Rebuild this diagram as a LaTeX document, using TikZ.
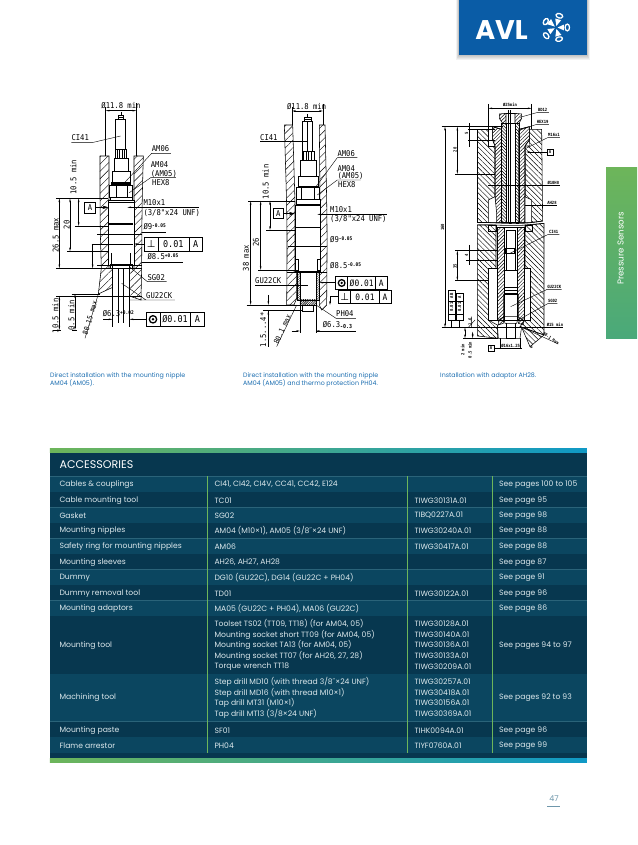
\documentclass[tikz,border=0pt]{standalone}
\usepackage{fontspec}
\usetikzlibrary{patterns.meta,arrows.meta}
\setmainfont{Poppins}
\newfontfamily\iso[FakeStretch=.9]{DejaVu Sans Mono}
\newfontfamily\syms{DejaVu Sans}
\definecolor{rowdark}{HTML}{07374F}
\definecolor{rowlight}{HTML}{0B4660}
\definecolor{sepline}{HTML}{2A6379}
\definecolor{tabtext}{HTML}{DCE8EC}
\definecolor{avlgreen}{HTML}{6DB55A}
\definecolor{avlteal}{HTML}{4AA97A}
\definecolor{midteal}{HTML}{4FAE8A}
\definecolor{barblue}{HTML}{0F99C6}
\definecolor{avlblue}{HTML}{0A5CA6}
\definecolor{capblue}{HTML}{1B6DB0}
\definecolor{pagenum}{HTML}{6F97AB}
\newcommand\sps[1]{\raisebox{.45ex}{\fontsize{5}{5}\selectfont\bfseries #1}}
\newcommand\sbs[1]{\raisebox{-.2ex}{\fontsize{5.5}{5.5}\selectfont\bfseries #1}}
\newcommand\tc[3]{\node[tabt] (t#1#2) at (#1,#2) {#3};}
\tikzset{
  iso/.style={font=\iso\fontsize{8}{9}\selectfont,inner sep=0pt,text=black},
  isol/.style={iso,anchor=west},
  isob/.style={font=\iso\fontsize{9.4}{10}\selectfont,inner sep=0pt,text=black},
  isoc/.style={font=\iso\fontsize{8.8}{10}\selectfont,inner sep=0pt,text=black},
  tinyt/.style={font=\iso\bfseries\fontsize{4.3}{5}\selectfont,inner sep=0pt,text=black},
  tabt/.style={font=\fontsize{7.65}{8}\selectfont,inner sep=0pt,anchor=west,text=tabtext},
  capt/.style={font=\fontsize{6.3}{8}\selectfont,inner sep=0pt,anchor=north west,align=left,text=capblue},
  olin/.style={line width=.55pt},
  thk/.style={line width=1.5pt},
  dm/.style={line width=.4pt},
  dma/.style={line width=.4pt,{Stealth[length=4pt,width=1.6pt]}-{Stealth[length=4pt,width=1.6pt]}},
  ar/.style={line width=.4pt,-{Stealth[length=4pt,width=1.6pt]}},
  bigar/.style={line width=.4pt,-{Stealth[length=6pt,width=3.5pt]}},
  hatchA/.style={line width=.55pt,pattern={Lines[angle=45,distance=5.2pt,line width=.4pt]}},
  hatchB/.style={line width=.55pt,pattern={Lines[angle=-45,distance=3.6pt,line width=.45pt]}},
  hatchC/.style={line width=.3pt,pattern={Lines[angle=45,distance=1.6pt,line width=.35pt]}},
  hatchD/.style={line width=.55pt,pattern={Lines[angle=45,distance=2.5pt,line width=.45pt]}},
  hatchE/.style={line width=.55pt,pattern={Lines[angle=-45,distance=2.2pt,line width=.45pt]}},
  fcf/.style={line width=.6pt,fill=white},
}
\begin{document}
\begin{tikzpicture}[x=1pt,y=-1pt]
\useasboundingbox (0,0) rectangle (637,845);
% logo
\foreach \d in {.5,1.5,...,5.5}{\fill[black,opacity=.05] (459-\d*.5,0) rectangle (587+\d*.5,54.7+\d);}
\fill[avlblue] (459,0) rectangle (587,54.7);
\node[font=\bfseries\fontsize{27}{27}\selectfont,text=white,inner sep=0pt] (avl) at (501.5,30) {AVL};
\begin{scope}[shift={(556,27.5)}]
\foreach \a/\r in {-140/12.8,-75/12,0/11.3,74/12.2,150/11.8}{
  \fill[white] (\a:1.5) -- (\a-20:\r-3) -- (\a+20:\r-3) -- cycle;
  \begin{scope}[rotate=\a,shift={(\r,0)}]
    \draw[white,line width=1.3pt,fill=avlblue] (0,0) ellipse (2.2 and 3.4);
  \end{scope}
}
\end{scope}
% side tab
\shade[top color=avlgreen,bottom color=avlteal] (606,168) rectangle (637,338);
\node[font=\fontsize{8.6}{9}\selectfont,text=white,rotate=90,inner sep=0pt] (tab) at (620.5,248.5) {Pressure Sensors};

% ---------- drawing 1
\begin{scope}[shift={(40,90)},x=.3333pt,y=-.3333pt]
\draw[hatchA] (180,198)--(207,198)--(207,535)--(184,535) .. controls (180,400) .. (180,198);
\draw[hatchA] (184,535)--(218,535)--(218,592)--(175,612)--cycle;
\draw[hatchA] (282,198)--(310,198) .. controls (306,350) .. (305,535)--(282,535)--cycle;
\draw[hatchA] (268,535)--(305,535)--(303,630)--(268,618)--cycle;
% sensor
\draw[olin,fill=white] (236,75) rectangle (250,88);
\draw[dm] (236,82)--(250,82) (243,66)--(243,75);
\draw[olin,fill=white] (227,88) rectangle (257,178);
\draw[olin,fill=white] (227,178) rectangle (260,205);
\foreach \x in {234,240,247,254}{\draw[line width=1pt] (\x,180)--(\x,205);}
\draw[olin,fill=white] (224,205) rectangle (264,245);
\draw[olin,fill=white] (218,245) rectangle (272,278);
\fill (214,277) rectangle (272,285);
\draw[olin,fill=white] (208,285) rectangle (277,322);
\draw[olin] (228,285)--(228,322) (262,285)--(262,322);
\draw[olin,fill=white] (212,322) rectangle (276,330);
\draw[olin,fill=white] (205,330) rectangle (282,525);
\draw[thk] (205,338)--(282,338) (205,402)--(280,402);
\draw[olin] (205,462)--(280,462);
\draw[olin] (213,490)--(213,525) (272,490)--(272,525);
\fill (210,522) rectangle (278,529);
\draw[olin] (218,529)--(218,710) (268,529)--(268,710);
\draw[dm] (235,535)--(235,700) (250,535)--(250,700) (212,535)--(212,525) (276,535)--(276,525);
\draw[dm] (172,433)--(305,433) (172,525)--(305,525);
% top dim
\draw[dm] (197,52)--(197,198) (289,40)--(289,198);
\draw[dma] (197,62)--(289,62);
\node[iso] (d1a) at (243,48) {Ø11.8 min};
% labels
\node[isol] (d1c) at (94,143) {CI41};
\draw[dm] (94,157)--(160,157)--(242,138);
\node[isol] (d1b) at (335,177) {AM06};
\draw[dm] (335,190)--(393,190) (335,190)--(250,282);
\node[isol] (d1d) at (332,223) {AM04};
\node[isol] (d1e) at (332,251) {(AM05)};
\node[isol] (d1f) at (336,279) {HEX8};
\draw[dm] (332,263)--(408,263) (332,263)--(268,308);
% A box
\node[draw,line width=.6pt,minimum width=11pt,minimum height=11pt,iso] (d1box) at (150,352) {A};
\draw[bigar] (d1box.east)--(205,352);
\draw[ar] (282,352)--(262,352);
\draw[dm] (282,352)--(477,352);
\node[isol] (d1m) at (310,337) {M10x1};
\node[isol] (d1n) at (310,368) {(3/8"x24 UNF)};
\node[isol] (d1o) at (310,410) {Ø9\sps{-0.05}};
\draw[dm] (305,426)--(378,426);
% vert dims
\draw[dm] (48,325)--(205,325) (105,408)--(205,408) (82,484)--(205,484) (48,535)--(305,535);
\draw[dma] (116,325)--(116,408);
\draw[dma] (90,325)--(90,484);
\draw[dma] (58,325)--(58,535);
\node[iso,rotate=90] (d1p) at (100,262) {10.5 min};
\node[iso,rotate=90] (d1q) at (80,405) {20};
\node[iso,rotate=90] (d1r) at (47,436) {26.5 max};
\draw[dm] (155,462)--(205,462);
\draw[ar] (158,462)--(158,535);
% perp box
\draw[fcf] (313,443) rectangle (488,483);
\draw[line width=.6pt] (355,443)--(355,483) (447,443)--(447,483);
\node[font=\syms\fontsize{10}{10}\selectfont,inner sep=0pt] (d1perp) at (334,462) {⊥};
\node[isob] (d1s) at (400,463) {0.01};
\node[isob] (d1t) at (467,463) {A};
\draw[ar] (313,462)--(282,462);
\node[isol] (d1u) at (322,501) {Ø8.5\sps{+0.05}};
\draw[dm] (305,518)--(430,518);
\node[isol] (d1v) at (322,562) {SG02};
\draw[dm] (322,575)--(380,575) (322,575)--(268,530);
\node[isol] (d1w) at (318,617) {GU22CK};
\draw[dm] (268,630)--(405,630) (318,630)--(245,580);
\draw[dm] (48,618)--(305,618) (95,612)--(180,612);
\draw[dm] (40,720)--(62,720) (96,720)--(110,720);
\draw[dma] (58,618)--(58,720);
\draw[dma] (105,612)--(105,720);
\node[iso,rotate=90] (d1x) at (46,678) {10.5 min};
\node[iso,rotate=90] (d1y) at (94,676) {0.5 min};
\draw[dm] (175,612)--(135,745);
\node[iso,rotate=73,font=\iso\fontsize{7.2}{8}\selectfont] (d1z) at (150,683) {80.15 max};
\node[isol] (d1aa) at (188,672) {Ø6.3\sps{+0.02}};
\draw[ar] (190,688)--(218,688);
\draw[ar] (320,688)--(268,688);
\draw[fcf] (320,667) rectangle (494,709);
\draw[line width=.6pt] (360,667)--(360,709) (450,667)--(450,709);
\draw[line width=1.3pt] (339,688) circle (11);
\fill (339,688) circle (4);
\node[isob] (d1ab) at (405,688) {Ø0.01};
\node[isob] (d1ac) at (472,688) {A};
\end{scope}

% ---------- drawing 2
\begin{scope}[shift={(230,90)},x=.3333pt,y=-.3333pt]
\draw[hatchA] (163,105)--(188,105)--(195,335)--(195,548)--(200,548)--(200,625)--(192,645)--(170,645) .. controls (172,400) .. (163,105);
\draw[hatchA] (268,105)--(285,105) .. controls (292,400) .. (290,645)--(275,660)--(268,645)--(268,548)--(270,548)--(270,335)--cycle;
% sensor
\draw[olin,fill=white] (222,82) rectangle (245,95);
\draw[dm] (222,88)--(245,88) (233,72)--(233,82);
\draw[olin,fill=white] (218,95) rectangle (248,185);
\draw[olin,fill=white] (216,185) rectangle (253,211);
\foreach \x in {222,229,236,244}{\draw[line width=1pt] (\x,187)--(\x,211);}
\draw[olin,fill=white] (210,211) rectangle (258,260);
\draw[olin,fill=white] (205,260) rectangle (264,290);
\draw[olin,fill=white] (200,292) rectangle (268,328);
\draw[olin] (214,292)--(214,328) (254,292)--(254,328) (205,290)--(264,290);
\draw[olin,fill=white] (198,328) rectangle (270,345);
\draw[line width=1.2pt] (198,345)--(270,345);
\draw[olin,fill=white] (197,345) rectangle (270,545);
\draw[thk] (197,413)--(270,413);
\draw[olin] (197,508) rectangle (205,540) (262,508) rectangle (270,540);
\draw[hatchC,fill=white] (200,548) rectangle (268,630);
\draw[hatchC] (200,548) rectangle (210,630) (258,548) rectangle (268,630);
\fill[white] (210,550) rectangle (258,630);
\draw[olin] (210,548)--(210,630) (258,548)--(258,630);
\draw[thk] (200,548)--(270,548);
\draw[line width=.3pt,pattern={Lines[angle=45,distance=1.6pt,line width=.6pt]}] (210,630) rectangle (258,645);
\draw[olin] (217,645)--(217,663)--(250,663)--(250,645);
\draw[dm] (210,645)--(210,730) (258,645)--(258,730);
\draw[dm] (175,470)--(290,470) (170,548)--(290,548);
\draw[dm] (233,95)--(233,185);
% top dim
\draw[dm] (186,50)--(186,105) (279,42)--(279,105);
\draw[dma] (186,63)--(279,63);
\node[iso] (d2a) at (230,50) {Ø11.8 min};
\node[isol] (d2c) at (90,144) {CI41};
\draw[dm] (90,155)--(232,155);
\node[isol] (d2b) at (322,190) {AM06};
\draw[dm] (322,203)--(382,203) (322,203)--(258,290);
\node[isol] (d2d) at (322,235) {AM04};
\node[isol] (d2e) at (322,258) {(AM05)};
\node[isol] (d2f) at (324,285) {HEX8};
\draw[dm] (322,270)--(392,270) (322,270)--(262,315);
\node[draw,line width=.6pt,minimum width=10pt,minimum height=10pt,iso] (d2box) at (145,371) {A};
\draw[bigar] (d2box.east)--(195,371);
\draw[ar] (282,373)--(262,373);
\draw[dm] (282,373)--(470,373);
\node[isol] (d2m) at (300,358) {M10x1};
\node[isol] (d2n) at (300,388) {(3/8"x24 UNF)};
\node[isol] (d2o) at (300,449) {Ø9\sps{-0.05}};
\node[isol] (d2u) at (300,527) {Ø8.5\sps{-0.05}};
\draw[dm] (55,333)--(195,333) (108,420)--(195,420) (85,540)--(200,540) (50,645)--(215,645);
\draw[dma] (120,333)--(120,420);
\draw[dma] (92,333)--(92,540);
\draw[dma] (62,333)--(62,645);
\node[iso,rotate=90] (d2p) at (107,276) {10.5 min};
\node[iso,rotate=90] (d2q) at (78,458) {26};
\node[iso,rotate=90] (d2r) at (48,505) {38 max};
\node[isol] (d2v) at (75,573) {GU22CK};
\draw[dm] (75,587)--(235,587);
\draw[fcf] (317,560) rectangle (472,598);
\draw[line width=.6pt] (352,560)--(352,598) (437,560)--(437,598);
\draw[line width=1.3pt] (335,579) circle (10);
\fill (335,579) circle (4);
\node[isoc] (d2ab) at (395,579) {Ø0.01};
\node[isoc] (d2ac) at (454,579) {A};
\draw[ar] (317,578)--(268,578);
\draw[fcf] (325,601) rectangle (484,640);
\draw[line width=.6pt] (362,601)--(362,640) (447,601)--(447,640);
\node[font=\syms\fontsize{10}{10}\selectfont,inner sep=0pt] (d2perp) at (344,620) {⊥};
\node[isoc] (d2s) at (405,621) {0.01};
\node[isoc] (d2t) at (465,621) {A};
\draw[dm] (325,620)--(300,620);
\draw[ar] (300,620)--(300,645);
\node[isol] (d2w) at (318,671) {PH04};
\draw[dm] (318,685)--(378,685) (318,685)--(258,645);
\node[isol] (d2x) at (278,706) {Ø6.3\sbs{-0.3}};
\draw[dm] (258,723)--(378,723);
\draw[ar] (185,723)--(210,723);
\draw[ar] (285,723)--(258,723);
\draw[dm] (100,662)--(217,662);
\draw[ar] (115,615)--(115,645);
\draw[ar] (115,700)--(115,662);
\draw[dm] (115,662)--(115,770);
\node[iso,rotate=90] (d2y) at (100,720) {1.5...4*};
\draw[dm] (200,645)--(140,770);
\node[iso,rotate=65,font=\iso\fontsize{7.2}{8}\selectfont] (d2z) at (157,718) {80.1 max};
\end{scope}

% ---------- drawing 3
\begin{scope}[shift={(420,90)},x=.3333pt,y=-.3333pt]
% outer block upper
\draw[hatchB] (172,118)--(205,118)--(205,168)--(225,168)--(225,398) .. controls (200,396) .. (172,398)--cycle;
\draw[hatchB] (325,118)--(365,118)--(368,393) .. controls (345,396) .. (315,398)--(315,168)--(330,168)--cycle;
\draw[olin,fill=white] (205,150) rectangle (225,168);
\draw[hatchD,fill=white] (218,110)--(245,118)--(245,398)--(225,398)--(225,168)--(218,150)--cycle;
\draw[hatchD] (218,110)--(245,118)--(245,398)--(225,398)--(225,168)--(218,150)--cycle;
\draw[olin,fill=white] (328,110)--(297,118)--(297,398)--(315,398)--(315,168)--(328,150)--cycle;
\draw[hatchD] (328,110)--(297,118)--(297,398)--(315,398)--(315,168)--(328,150)--cycle;
\draw[olin,fill=white] (205,330) -- (225,320)--(230,370)--(230,398)--(205,398)--cycle;
\draw[olin,fill=white] (315,320)--(335,330)--(335,398)--(315,398)--cycle;
% inner tube
\draw[hatchE] (245,100)--(258,100)--(258,398)--(245,398)--cycle;
\draw[hatchE] (285,100)--(297,100)--(297,398)--(285,398)--cycle;
\draw[olin,fill=white] (258,100) rectangle (285,398);
\draw[hatchD] (238,72)--(258,70)--(258,100)--(248,100)--(238,85)--cycle;
\draw[hatchD] (305,72)--(285,70)--(285,100)--(297,100)--(305,85)--cycle;
\draw[line width=1pt] (265,60)--(265,398) (272,60)--(272,398);
\draw[olin] (258,70)--(285,70);
\draw[olin] (172,398) .. controls (230,396) and (290,408) .. (368,393);
\draw[olin] (172,405) .. controls (230,403) and (290,412) .. (372,400);
% lower block
\draw[hatchB] (172,405)--(228,405)--(228,535)--(205,535)--(205,690)--(232,705)--(235,745)--(172,738)--cycle;
\draw[hatchB] (315,405)--(372,400)--(372,735)--(300,710)--(315,690)--(332,690)--(332,535)--(315,535)--cycle;
\draw[olin,fill=white] (205,535) rectangle (232,690);
\draw[olin,fill=white] (308,535) rectangle (332,690);
\draw[olin] (205,405) rectangle (228,425) (315,405) rectangle (338,425);
\draw[olin,fill=white] (232,412) rectangle (252,690) (293,412) rectangle (312,690);
\draw[hatchD] (232,412)--(252,412)--(252,690)--(232,690)--cycle;
\draw[hatchD] (293,412)--(312,412)--(312,690)--(293,690)--cycle;
\draw[olin,fill=white] (252,412) rectangle (293,690);
\draw[olin] (258,420) rectangle (285,540);
\draw[line width=1pt] (258,475) rectangle (285,492);
\draw[olin] (252,540) rectangle (293,600);
\foreach \y in {592,602,612}{\draw[line width=1.4pt] (252,\y)--(293,\y);}
\draw[olin] (250,612)--(250,680)--(295,680)--(295,612) (250,680)--(255,700)--(290,700)--(295,680);
\draw[olin] (258,700)--(258,745)--(285,745)--(285,700);
\draw[olin] (232,705)--(232,745) (305,710)--(300,745)--(235,745);
\draw[hatchD] (235,690)--(252,680)--(250,700)--(235,705)--cycle;
\draw[hatchD] (310,690)--(293,680)--(295,700)--(310,705)--cycle;
\draw[hatchB] (300,710)--(372,735)--(330,770)--(305,712)--cycle;
% dims
\draw[dm] (205,42)--(205,118) (335,42)--(335,118);
\draw[dma] (205,55)--(335,55);
\node[tinyt] (d3a) at (270,43) {Ø25min};
\draw[dm] (350,68)--(387,68) (350,68)--(300,82);
\node[tinyt] (d3b) at (368,60) {BD12};
\draw[dm] (350,103)--(387,103) (350,103)--(300,120);
\node[tinyt] (d3c) at (368,97) {HEX19};
\draw[dm] (385,142)--(420,142) (385,142)--(318,175);
\node[tinyt] (d3d) at (402,135) {M16x1};
\node[draw,line width=.6pt,tinyt,minimum width=6pt,minimum height=6pt] (d3box) at (390,186) {A};
\draw[ar] (d3box.west)--(318,186);
\draw[dm] (205,287)--(420,287);
\node[tinyt] (d3e) at (400,280) {Ø10H8};
\draw[dm] (315,347)--(412,347);
\node[tinyt] (d3f) at (396,340) {AH28};
\draw[dm] (385,433)--(418,433) (385,433)--(270,490);
\node[tinyt] (d3g) at (401,426) {CI41};
\draw[dm] (382,598)--(425,598) (382,598)--(272,650);
\node[tinyt] (d3h) at (403,591) {GU22CK};
\draw[dm] (385,640)--(412,640) (385,640)--(295,690);
\node[tinyt] (d3i) at (398,634) {SG02};
\draw[dm] (65,110)--(250,110) (65,712)--(430,712);
\node[tinyt] (d3j) at (405,705) {Ø15 min};
\draw[dma] (75,110)--(75,712);
\node[tinyt,rotate=90] (d3k) at (68,412) {160};
\draw[dm] (145,118)--(225,118) (145,150)--(225,150) (105,252)--(225,252);
\draw[dma] (112,110)--(112,252);
\draw[dm] (147,100)--(147,170);
\node[tinyt,rotate=90] (d3l) at (140,131) {5};
\node[tinyt,rotate=90] (d3m) at (105,180) {20};
\draw[dm] (105,482)--(230,482) (105,572)--(205,572) (138,510)--(230,510);
\draw[dma] (112,482)--(112,572);
\draw[dm] (147,465)--(147,525);
\node[tinyt,rotate=90] (d3n) at (140,495) {4};
\node[tinyt,rotate=90] (d3o) at (105,530) {35};
\draw[line width=.6pt] (85,602) rectangle (105,690) (108,610) rectangle (130,690);
\draw[line width=.5pt] (85,633)--(105,633) (85,672)--(105,672) (108,633)--(130,633) (108,672)--(130,672);
\node[tinyt,rotate=90] (d3p) at (95,618) {AB};
\node[tinyt,rotate=90] (d3q) at (95,652) {0.01};
\node[tinyt,rotate=90] (d3r) at (119,621) {A};
\node[tinyt,rotate=90] (d3s) at (119,652) {0.01};
\draw[dm] (95,690)--(95,712) (119,690)--(119,712);
\node[tinyt,rotate=90] (d3t) at (150,695) {1.6};
\draw[dm] (145,712)--(165,690) (155,680)--(155,712);
\draw[dm] (130,745)--(235,745);
\draw[dma] (135,712)--(135,745);
\draw[dma] (158,725)--(158,745);
\node[tinyt,rotate=90] (d3u) at (128,780) {2 min};
\node[tinyt,rotate=90] (d3v) at (150,780) {0.5 min};
\node[draw,line width=.6pt,tinyt,minimum width=6pt,minimum height=6pt] (d3box2) at (213,775) {A};
\draw[dm] (d3box2.east)--(232,775) (232,775)--(305,775);
\draw[dm] (240,745)--(240,775) (300,745)--(300,775);
\node[tinyt] (d3w) at (272,767) {Ø16x1.25};
\draw[dm] (305,712)--(415,762);
\node[tinyt,rotate=-35] (d3x) at (393,745) {80.1 max};
\node[tinyt] (d3y) at (335,771) {α};
\end{scope}

% captions
\node[capt] (cap1) at (50,372.2) {Direct installation with the mounting nipple\\AM04 (AM05).};
\node[capt] (cap2) at (243,372.2) {Direct installation with the mounting nipple\\AM04 (AM05) and thermo protection PH04.};
\node[capt] (cap3) at (440,372.2) {Installation with adaptor AH28.};

% ---------- table
\begin{scope}[shift={(40,440)},x=.3333pt,y=-.3333pt]
\fill[rowdark] (30,38) rectangle (1641,957);
\foreach \a/\b in {108/155,201/248,295/342,388/435,481/528,701/844,891/938}{\fill[rowlight] (30,\a) rectangle (1641,\b);}
\foreach \a in {108,201,295,388,481,844}{\draw[sepline,line width=.4pt] (30,\a)--(1641,\a);}
\shade[left color=avlgreen,middle color=midteal,right color=barblue] (30,25) rectangle (1641,38);
\shade[left color=avlgreen,middle color=midteal,right color=barblue] (30,957) rectangle (1641,968);
\foreach \x in {503,1103,1359}{\draw[avlgreen,line width=1pt] (\x,108)--(\x,938);}
\node[font=\fontsize{11.1}{12}\selectfont,text=white,inner sep=0pt,anchor=west] (hdr) at (58,75) {ACCESSORIES};
\tc{58}{133}{Cables \& couplings}
\tc{58}{181}{Cable mounting tool}
\tc{58}{226}{Gasket}
\tc{58}{273}{Mounting nipples}
\tc{58}{319}{Safety ring for mounting nipples}
\tc{58}{367}{Mounting sleeves}
\tc{58}{412}{Dummy}
\tc{58}{460}{Dummy removal tool}
\tc{58}{505}{Mounting adaptors}
\tc{58}{616}{Mounting tool}
\tc{58}{774}{Machining tool}
\tc{58}{871}{Mounting paste}
\tc{58}{916}{Flame arrestor}
\tc{523}{133}{CI41, CI42, CI4V, CC41, CC42, E124}
\tc{523}{181}{TC01}
\tc{523}{226}{SG02}
\tc{523}{273}{AM04 (M10×1), AM05 (3/8˝×24 UNF)}
\tc{523}{319}{AM06}
\tc{523}{367}{AH26, AH27, AH28}
\tc{523}{412}{DG10 (GU22C), DG14 (GU22C + PH04)}
\tc{523}{460}{TD01}
\tc{523}{505}{MA05 (GU22C + PH04), MA06 (GU22C)}
\tc{523}{552}{Toolset TS02 (TT09, TT18) (for AM04, 05)}
\tc{523}{585}{Mounting socket short TT09 (for AM04, 05)}
\tc{523}{615}{Mounting socket TA13 (for AM04, 05)}
\tc{523}{648}{Mounting socket TT07 (for AH26, 27, 28)}
\tc{523}{681}{Torque wrench TT18}
\tc{523}{726}{Step drill MD10 (with thread 3/8˝×24 UNF)}
\tc{523}{759}{Step drill MD16 (with thread M10×1)}
\tc{523}{789}{Tap drill MT31 (M10×1)}
\tc{523}{822}{Tap drill MT13 (3/8×24 UNF)}
\tc{523}{871}{SF01}
\tc{523}{916}{PH04}
\tc{1123}{181}{TIWG30131A.01}
\tc{1123}{226}{TIBQ0227A.01}
\tc{1123}{273}{TIWG30240A.01}
\tc{1123}{319}{TIWG30417A.01}
\tc{1123}{460}{TIWG30122A.01}
\tc{1123}{552}{TIWG30128A.01}
\tc{1123}{585}{TIWG30140A.01}
\tc{1123}{615}{TIWG30136A.01}
\tc{1123}{648}{TIWG30133A.01}
\tc{1123}{681}{TIWG30209A.01}
\tc{1123}{726}{TIWG30257A.01}
\tc{1123}{759}{TIWG30418A.01}
\tc{1123}{789}{TIWG30156A.01}
\tc{1123}{822}{TIWG30369A.01}
\tc{1123}{871}{TIHK0094A.01}
\tc{1123}{916}{TIYF0760A.01}
\tc{1377}{133}{See pages 100 to 105}
\tc{1377}{181}{See page 95}
\tc{1377}{226}{See page 98}
\tc{1377}{273}{See page 88}
\tc{1377}{319}{See page 88}
\tc{1377}{367}{See page 87}
\tc{1377}{412}{See page 91}
\tc{1377}{460}{See page 96}
\tc{1377}{505}{See page 86}
\tc{1377}{616}{See pages 94 to 97}
\tc{1377}{774}{See pages 92 to 93}
\tc{1377}{871}{See page 96}
\tc{1377}{916}{See page 99}
\end{scope}
% page number
\node[font=\fontsize{8}{8}\selectfont,text=pagenum,inner sep=0pt] (pg) at (554,799) {47};
\draw[pagenum,line width=.5pt] (547,806)--(560,806);
\end{tikzpicture}
\end{document}
